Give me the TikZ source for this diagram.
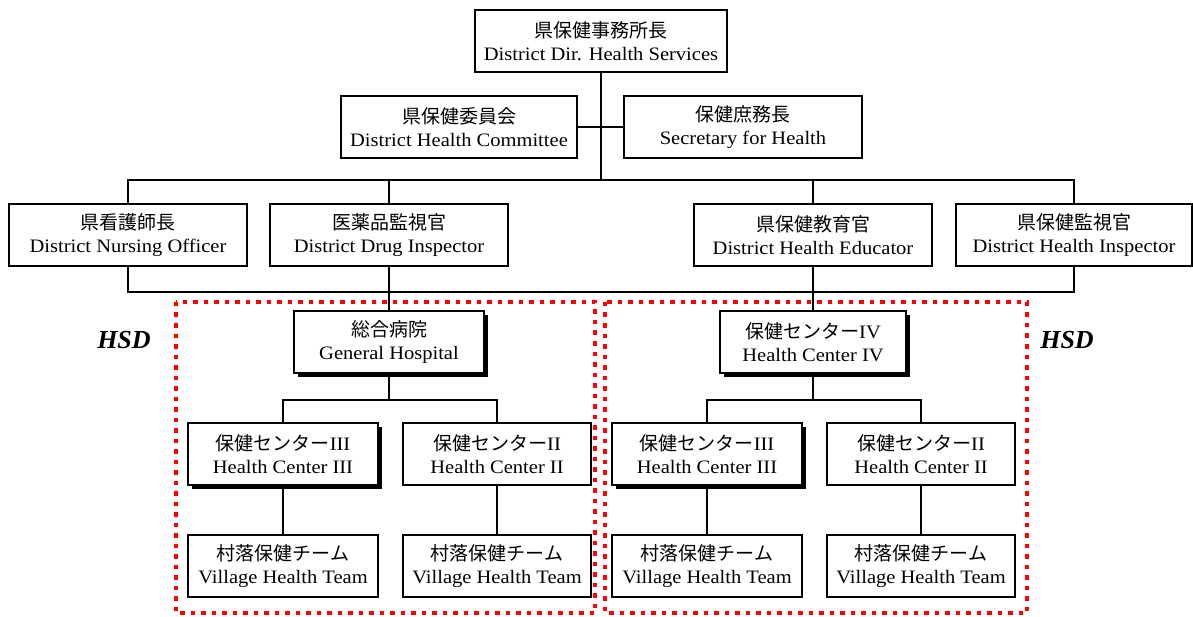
\documentclass[tikz,border=0pt]{standalone}
\usepackage{fontspec}
\setmainfont{Liberation Serif}[FakeStretch=1.08]
\newfontfamily\jp{Noto Sans CJK JP}[Scale=1.0]
\newfontfamily\hsdfont{Liberation Serif}
\usetikzlibrary{shadows}
\begin{document}
\begin{tikzpicture}[x=1pt,y=-1pt,
  font=\fontsize{19}{23}\selectfont,
  box/.style={draw, line width=2pt, fill=white, align=center, inner sep=0pt, minimum height=62pt},
  sbox/.style={box, drop shadow={shadow xshift=4pt, shadow yshift=-4pt, opacity=1, fill=black}},
  conn/.style={line width=2pt},
  hsdframe/.style={draw=red, line width=4.5pt, dash pattern=on 4.5pt off 6pt},
  lbl/.style={font=\hsdfont\fontsize{26}{30}\selectfont\bfseries\itshape}]
\useasboundingbox (0,0) rectangle (1193,617);

% red HSD frames
\draw[hsdframe] (176,302) rectangle (595,613);
\draw[hsdframe] (605,302) rectangle (1027,613);
\node[lbl] (hsdL) at (124,340) {HSD};
\node[lbl] (hsdR) at (1067,340) {HSD};

% level 0/1
\node[box, minimum width=252pt] (dir) at (601,41) {{\jp 県保健事務所長}\\District Dir. Health Services};
\node[box, minimum width=236pt] (com) at (459,127) {{\jp 県保健委員会}\\District Health Committee};
\node[box, minimum width=238pt] (sec) at (743,127) {{\jp 保健庶務長}\\Secretary for Health};

% level 2
\node[box, minimum width=238pt] (nur) at (128,235) {{\jp 県看護師長}\\District Nursing Officer};
\node[box, minimum width=238pt] (drug) at (389,235) {{\jp 医薬品監視官}\\District Drug Inspector};
\node[box, minimum width=238pt] (edu) at (813,235) {{\jp 県保健教育官}\\District Health Educator};
\node[box, minimum width=236pt] (insp) at (1074,235) {{\jp 県保健監視官}\\District Health Inspector};

% left HSD
\node[sbox, minimum width=190pt] (gh) at (389,342) {{\jp 総合病院}\\General Hospital};
\node[sbox, minimum width=190pt] (hc3l) at (283,454) {{\jp 保健センター}III\\Health Center III};
\node[box, minimum width=188pt] (hc2l) at (497,454) {{\jp 保健センター}II\\Health Center II};
\node[box, minimum width=190pt] (vh1) at (283,566) {{\jp 村落保健チーム}\\Village Health Team};
\node[box, minimum width=188pt] (vh2) at (497,566) {{\jp 村落保健チーム}\\Village Health Team};

% right HSD
\node[sbox, minimum width=186pt] (hc4) at (813,342) {{\jp 保健センター}IV\\Health Center IV};
\node[sbox, minimum width=190pt] (hc3r) at (707,454) {{\jp 保健センター}III\\Health Center III};
\node[box, minimum width=188pt] (hc2r) at (921,454) {{\jp 保健センター}II\\Health Center II};
\node[box, minimum width=190pt] (vh3) at (707,566) {{\jp 村落保健チーム}\\Village Health Team};
\node[box, minimum width=188pt] (vh4) at (921,566) {{\jp 村落保健チーム}\\Village Health Team};

% bus coordinates
\coordinate (bus1) at (601,180);
\coordinate (bus2) at (601,292);
\coordinate (bus3) at (0,400);

% connectors
\draw[conn] (dir.south) -- (bus1);
\draw[conn] (com.east) -- (dir.south |- com.east);
\draw[conn] (sec.west) -- (dir.south |- sec.west);
\draw[conn] (nur.north) -- (nur.north |- bus1) -- (insp.north |- bus1) -- (insp.north);
\draw[conn] (drug.north) -- (drug.north |- bus1);
\draw[conn] (edu.north) -- (edu.north |- bus1);
\draw[conn] (nur.south) -- (nur.south |- bus2) -- (insp.south |- bus2) -- (insp.south);
\draw[conn] (drug.south) -- (gh.north);
\draw[conn] (edu.south) -- (hc4.north);

\draw[conn] (gh.south) -- (gh.south |- bus3);
\draw[conn] (hc3l.north) -- (hc3l.north |- bus3) -- (hc2l.north |- bus3) -- (hc2l.north);
\draw[conn] (hc3l.south) -- (vh1.north);
\draw[conn] (hc2l.south) -- (vh2.north);

\draw[conn] (hc4.south) -- (hc4.south |- bus3);
\draw[conn] (hc3r.north) -- (hc3r.north |- bus3) -- (hc2r.north |- bus3) -- (hc2r.north);
\draw[conn] (hc3r.south) -- (vh3.north);
\draw[conn] (hc2r.south) -- (vh4.north);
\end{tikzpicture}
\end{document}
